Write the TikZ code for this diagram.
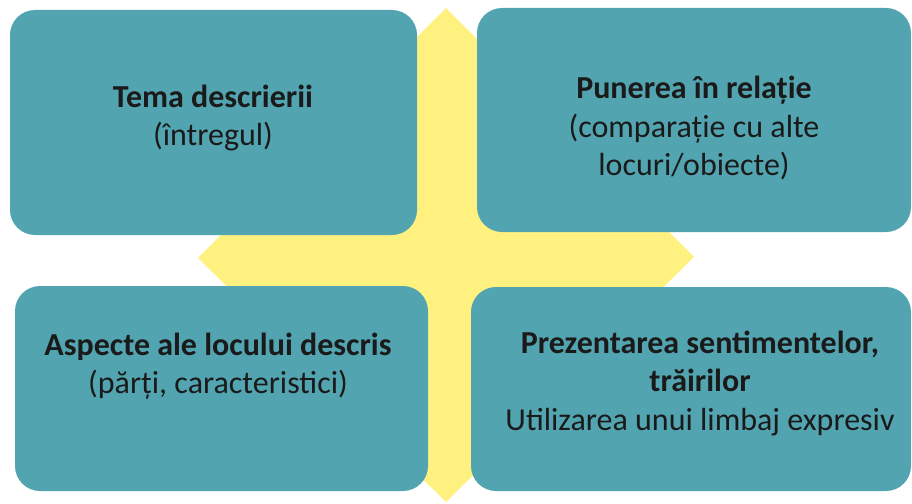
\documentclass[tikz,border=0pt]{standalone}
\usepackage{fontspec}
\setmainfont{Carlito}
\usepackage{tikz}
\usetikzlibrary{positioning}

\definecolor{tealbox}{RGB}{82,165,176}
\definecolor{sunyellow}{RGB}{255,241,128}
\definecolor{inktext}{RGB}{26,26,26}

\begin{document}
\begin{tikzpicture}[
  x=1pt, y=-1pt,
  panel/.style={fill=tealbox,draw=none,rounded corners=25pt,inner sep=0pt},
  caption/.style={align=center,text=inktext,font=\fontsize{32}{38.5}\selectfont}
]
  \useasboundingbox (0,0) rectangle (912,503);
  % yellow diamond behind the panels
  \fill[sunyellow] (446,8) -- (694,257) -- (446,502) -- (198,258) -- cycle;
  \node[panel,minimum width=407pt,minimum height=225pt] (tema) at (213.5,122.5) {};
  \node[panel,minimum width=434pt,minimum height=224pt] (relatie) at (694,120) {};
  \node[panel,minimum width=413pt,minimum height=205pt] (aspecte) at (221.5,388.5) {};
  \node[panel,minimum width=440pt,minimum height=204pt] (trairi) at (691,389) {};
  % texts
  \node[caption] (temaText) at (213,118) {\textbf{Tema descrierii}\\(întregul)};
  \node[caption] (relatieText) at (694,128) {\textbf{Punerea în relație}\\(comparație cu alte\\locuri/obiecte)};
  \node[caption] (aspecteText) at (218,366) {\textbf{Aspecte ale locului descris}\\(părți, caracteristici)};
  \node[caption] (trairiText) at (700,383) {\textbf{Prezentarea sentimentelor,}\\\textbf{trăirilor}\\Utilizarea unui limbaj expresiv};
\end{tikzpicture}
\end{document}
